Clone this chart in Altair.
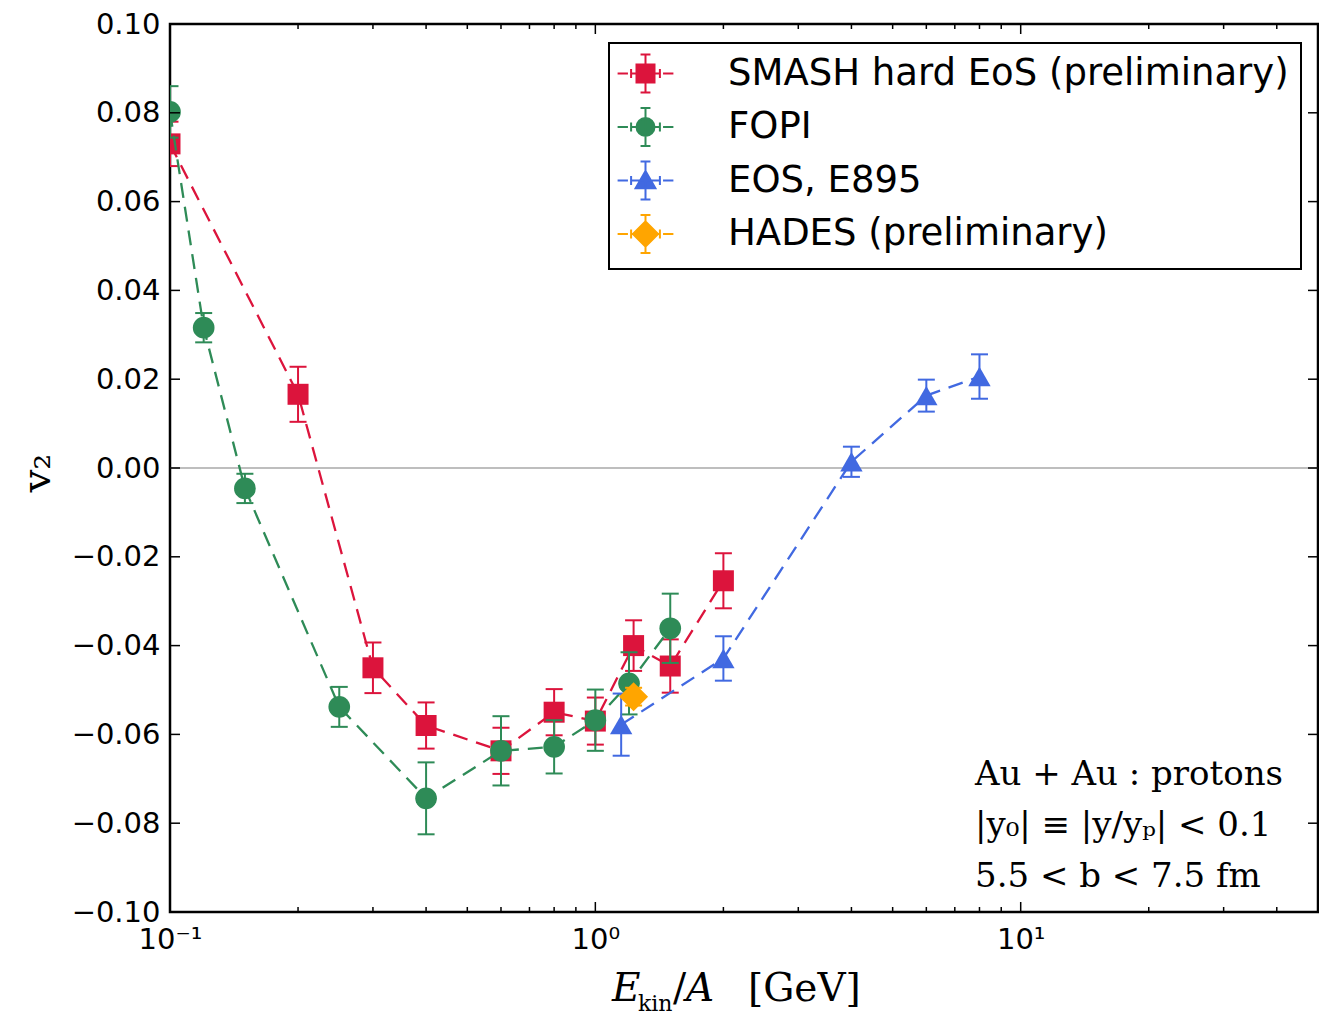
import altair as alt
import pandas as pd

SERIES = ["SMASH hard EoS (preliminary)", "FOPI", "EOS, E895", "HADES (preliminary)"]
COLORS = ["#DC143C", "#2E8B57", "#4169E1", "#FFA500"]
SHAPES = ["square", "circle", "triangle-up", "diamond"]
SIZES = [441, 470, 500, 841]

SMASH_X = [0.1, 0.2, 0.3, 0.4, 0.6, 0.8, 1.0, 1.23, 1.5, 2.0]
SMASH_Y = [0.073, 0.0166, -0.045, -0.058, -0.0637, -0.055, -0.057, -0.040, -0.0446, -0.0254]
SMASH_E = [0.005, 0.0062, 0.0057, 0.0052, 0.0052, 0.0052, 0.0053, 0.0057, 0.006, 0.0062]

FOPI_X = [0.1, 0.12, 0.15, 0.25, 0.4, 0.6, 0.8, 1.0, 1.2, 1.5]
FOPI_Y = [0.0802, 0.0316, -0.0046, -0.0538, -0.0744, -0.0637, -0.0628, -0.0568, -0.0485, -0.0361]
FOPI_E = [0.0058, 0.0033, 0.0033, 0.0045, 0.0081, 0.0078, 0.006, 0.0069, 0.007, 0.0078]

EOS_X = [1.15, 2.0, 4.0, 6.0, 8.0]
EOS_Y = [-0.0578, -0.0429, 0.0014, 0.0163, 0.0206]
EOS_E = [0.007, 0.005, 0.0034, 0.0036, 0.005]

HADES_X = [1.23]
HADES_Y = [-0.0515]
HADES_E = [0.002]

X_MAJOR = [0.1, 1, 10]
X_MINOR = [0.2, 0.3, 0.4, 0.5, 0.6, 0.7, 0.8, 0.9, 2, 3, 4, 5, 6, 7, 8, 9, 20, 30, 40]
Y_MAJOR = [-0.10, -0.08, -0.06, -0.04, -0.02, 0.0, 0.02, 0.04, 0.06, 0.08, 0.10]
ZERO = [0.0]

ANNOT = ["Au + Au : protons", "|y₀| ≡ |y/yₚ| < 0.1", "5.5 < b < 7.5 fm"]
YTITLE = "v₂"

W, H = 1148, 888

xscale = alt.Scale(type="log", domain=[0.1, 50], nice=False)
yscale = alt.Scale(domain=[-0.1, 0.1], nice=False, zero=False)

xaxis = alt.Axis(values=X_MAJOR, title=None, grid=False, domain=False, ticks=False, tickSize=0,
                 labelExpr="datum.value < 0.5 ? '10⁻¹' : (datum.value < 5 ? '10⁰' : '10¹')",
                 labelFont="DejaVu Sans", labelFontSize=29, labelColor="black", labelPadding=13,
                 labelFlush=False, labelOverlap=False)
yaxis = alt.Axis(values=Y_MAJOR, title=None, grid=False, domain=False, ticks=False, tickSize=0,
                 format=".2f", labelFont="DejaVu Sans", labelFontSize=29, labelColor="black",
                 labelPadding=10, labelFlush=False, labelOverlap=False)


def XE(field):
    return alt.X(field, type="quantitative", scale=xscale, axis=xaxis)


def YE(field):
    return alt.Y(field, type="quantitative", scale=yscale, axis=yaxis)


def frame(xs, ys, es):
    return pd.DataFrame({"E": xs, "v2": ys,
                         "lo": [y - e for y, e in zip(ys, es)],
                         "hi": [y + e for y, e in zip(ys, es)]})


layers = []

# zero line
layers.append(alt.Chart(pd.DataFrame({"v2": ZERO})).mark_rule(color="#7f7f7f", strokeWidth=1.2).encode(
    y=YE("v2")))

for name, color, shape, size, (xs, ys, es) in zip(
        SERIES, COLORS, SHAPES, SIZES,
        [(SMASH_X, SMASH_Y, SMASH_E), (FOPI_X, FOPI_Y, FOPI_E), (EOS_X, EOS_Y, EOS_E),
         (HADES_X, HADES_Y, HADES_E)]):
    base = alt.Chart(frame(xs, ys, es))
    if len(xs) > 1:
        layers.append(base.mark_line(color=color, strokeDash=[15, 9], strokeWidth=2.3, clip=True).encode(
            x=XE("E"), y=YE("v2")))
    layers.append(base.mark_rule(color=color, strokeWidth=2, clip=True).encode(
        x=XE("E"), y=YE("lo"), y2="hi:Q"))
    for f in ["lo", "hi"]:
        layers.append(base.mark_tick(color=color, orient="horizontal", size=17, thickness=2,
                                     opacity=1, clip=True).encode(x=XE("E"), y=YE(f)))
    layers.append(base.mark_point(shape=shape, filled=True, size=size, color=color, opacity=1,
                                  clip=True).encode(x=XE("E"), y=YE("v2")))


# inward frame ticks
def xticks(vals, length):
    d = alt.Chart(pd.DataFrame({"E": vals}))
    return [
        d.mark_rule(color="black", strokeWidth=1.5).encode(
            x=XE("E"), y=alt.value(H), y2=alt.value(H - length)),
        d.mark_rule(color="black", strokeWidth=1.5).encode(
            x=XE("E"), y=alt.value(0), y2=alt.value(length)),
    ]


layers += xticks(X_MAJOR, 10)
layers += xticks(X_MINOR, 5)
yt = alt.Chart(pd.DataFrame({"v2": Y_MAJOR}))
layers.append(yt.mark_rule(color="black", strokeWidth=1.5).encode(
    y=YE("v2"), x=alt.value(0), x2=alt.value(10)))
layers.append(yt.mark_rule(color="black", strokeWidth=1.5).encode(
    y=YE("v2"), x=alt.value(W), x2=alt.value(W - 10)))

# annotation text
serif = "DejaVu Serif"
for i, line in enumerate(ANNOT):
    layers.append(alt.Chart(pd.DataFrame({"s": [line]})).mark_text(
        font=serif, fontSize=34, align="left", baseline="alphabetic", color="black").encode(
        text="s:N", x=alt.value(805), y=alt.value(761 + 51 * i)))

# axis titles as text
XT = [("E", 39, "italic", 442, 977), ("kin", 22, "normal", 468, 987),
      ("/", 39, "normal", 503, 977), ("A", 39, "italic", 516, 977), ("[GeV]", 39, "normal", 578, 977)]
for s, fs, st, px, py in XT:
    layers.append(alt.Chart(pd.DataFrame({"s": [s]})).mark_text(
        font=serif, fontSize=fs, fontStyle=st, align="left", baseline="alphabetic", color="black").encode(
        text="s:N", x=alt.value(px), y=alt.value(py)))
layers.append(alt.Chart(pd.DataFrame({"s": [YTITLE]})).mark_text(
    font=serif, fontSize=40, align="center", baseline="middle", angle=270, color="black").encode(
    text="s:N", x=alt.value(-132), y=alt.value(449)))

# legend layer (no visible marks)
COMMON = ("M-3.1,0L-1.95,0M1.95,0L3.1,0M-1.6,0L1.6,0M-1.6,-0.5L-1.6,0.5M1.6,-0.5L1.6,0.5"
          "M0,-2.1L0,2.1M-0.55,-2.1L0.55,-2.1M-0.55,2.1L0.55,2.1")
MARKERS = ["M-1,-1L1,-1L1,1L-1,1Z",
           "M1,0A1,1,0,1,1,-1,0A1,1,0,1,1,1,0Z",
           "M0,-1.05L1.1,0.85L-1.1,0.85Z",
           "M0,-1.4L1.4,0L0,1.4L-1.4,0Z"]
PATHS = [COMMON + m for m in MARKERS]

leg = alt.Legend(title=None, orient="none", legendX=439, legendY=19, labelFont="DejaVu Sans",
                 labelFontSize=37, labelColor="black", labelLimit=1000, symbolSize=324,
                 symbolStrokeWidth=2, strokeColor="black", fillColor="white", padding=12,
                 rowPadding=6.5, symbolOffset=6, labelOffset=64, cornerRadius=0)
legend_layer = alt.Chart(pd.DataFrame({"series": SERIES})).transform_filter("false").mark_point(
    opacity=1, strokeWidth=2, size=324).encode(
    shape=alt.Shape("series:N", scale=alt.Scale(domain=SERIES, range=PATHS), legend=leg),
    fill=alt.Fill("series:N", scale=alt.Scale(domain=SERIES, range=COLORS), legend=leg),
    stroke=alt.Stroke("series:N", scale=alt.Scale(domain=SERIES, range=COLORS), legend=leg),
)
layers.append(legend_layer)

chart = alt.layer(*layers).properties(
    width=W, height=H,
    autosize=alt.AutoSizeParams(type="none"),
    padding={"left": 170, "top": 24, "right": 1, "bottom": 103},
    background="white",
).configure_view(stroke="black", strokeWidth=2.5).configure_legend(strokeWidth=2)

chart.save("out.html", embed_options={"renderer": "svg", "actions": False})
